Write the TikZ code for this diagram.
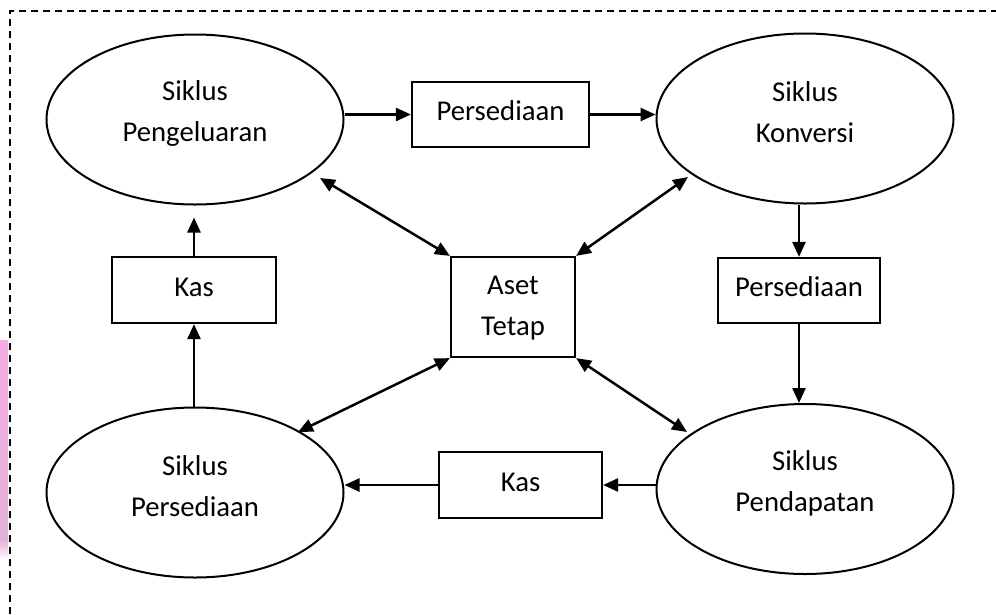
\documentclass[tikz,border=0pt]{standalone}
\usepackage{fontspec}
\setmainfont{Carlito}
\usetikzlibrary{shapes.geometric,arrows.meta}
\definecolor{smudge}{RGB}{246,172,228}
\definecolor{smudgeb}{RGB}{226,178,214}
\begin{document}
\begin{tikzpicture}[x=1pt,y=-1pt,
  cyc/.style={draw,ellipse,line width=2pt,minimum width=297pt,minimum height=170pt,inner sep=0pt},
  txt/.style={align=center,inner sep=0pt,font=\fontsize{28.7}{41}\selectfont},
  rbox/.style={draw,rectangle,line width=2.2pt,inner sep=0pt,align=center,font=\fontsize{28.7}{41}\selectfont},
  box/.style={rbox,text height=18pt,text depth=6pt},
  arr/.style={line width=2.5pt,-{Triangle[length=15pt,width=13pt]}},
  darr/.style={line width=2.5pt,{Triangle[length=15pt,width=13pt]}-{Triangle[length=15pt,width=13pt]}},
  border/.style={line width=1.5pt,dash pattern=on 7pt off 5pt}]
\useasboundingbox (0,0) rectangle (996,614);
\clip (0,0) rectangle (996,614);
% page artifact on the left edge
\shade[top color=smudge,bottom color=smudgeb] (0,340) rectangle (8,540);
\shade[top color=smudgeb,bottom color=white] (0,540) rectangle (8,560);
% dashed frame
\draw[border] (1010,11) -- (10,11) -- (10,630);

% cycles
\node[cyc] (tl) at (195,119.5) {};
\node[cyc] (tr) at (805,118.5) {};
\node[cyc] (bl) at (195,492.5) {};
\node[cyc] (br) at (805,489) {};
\node[txt] (tlt) at (195,113) {Siklus\\Pengeluaran};
\node[txt] (trt) at (805,112) {Siklus\\Konversi};
\node[txt] (blt) at (195,486) {Siklus\\Persediaan};
\node[txt] (brt) at (805,483) {Siklus\\Pendapatan};

% boxes
\node[box,minimum width=177pt,minimum height=65pt] (p1) at (500.5,114.5) {Persediaan};
\node[box,minimum width=164pt,minimum height=66pt] (kl) at (194,290) {Kas};
\node[rbox,minimum width=124pt,minimum height=100pt] (aset) at (513,307) {};
\node[txt] (asett) at (513,308) {Aset\\Tetap};
\node[box,minimum width=162pt,minimum height=65pt] (p2) at (799,290.5) {Persediaan};
\node[box,minimum width=163pt,minimum height=66pt] (kb) at (520.5,485) {Kas};

% flow arrows
\draw[arr] (p1.west -| tl.east) -- (p1.west);
\draw[arr] (p1.east) -- (p1.east -| tr.west);
\draw[arr] (tr.south -| p2.north) -- (p2.north);
\draw[arr] (p2.south) -- (p2.south |- br.north);
\draw[arr] (kb.east -| br.west) -- (kb.east);
\draw[arr] (kb.west) -- (kb.west -| bl.east);
\draw[arr] (bl.north -| kl.south) -- (kl.south);
\draw[arr,shorten >=12pt] (kl.north) -- (kl.north |- tl.south);

% fixed assets links
\coordinate (a1) at (320,178);
\coordinate (a2) at (688,177);
\coordinate (a3) at (298,432);
\coordinate (a4) at (687,432);
\draw[darr] (a1) -- (aset.north west);
\draw[darr] (a2) -- (aset.north east);
\draw[darr] (a3) -- (aset.south west);
\draw[darr] (a4) -- (aset.south east);
\end{tikzpicture}
\end{document}
